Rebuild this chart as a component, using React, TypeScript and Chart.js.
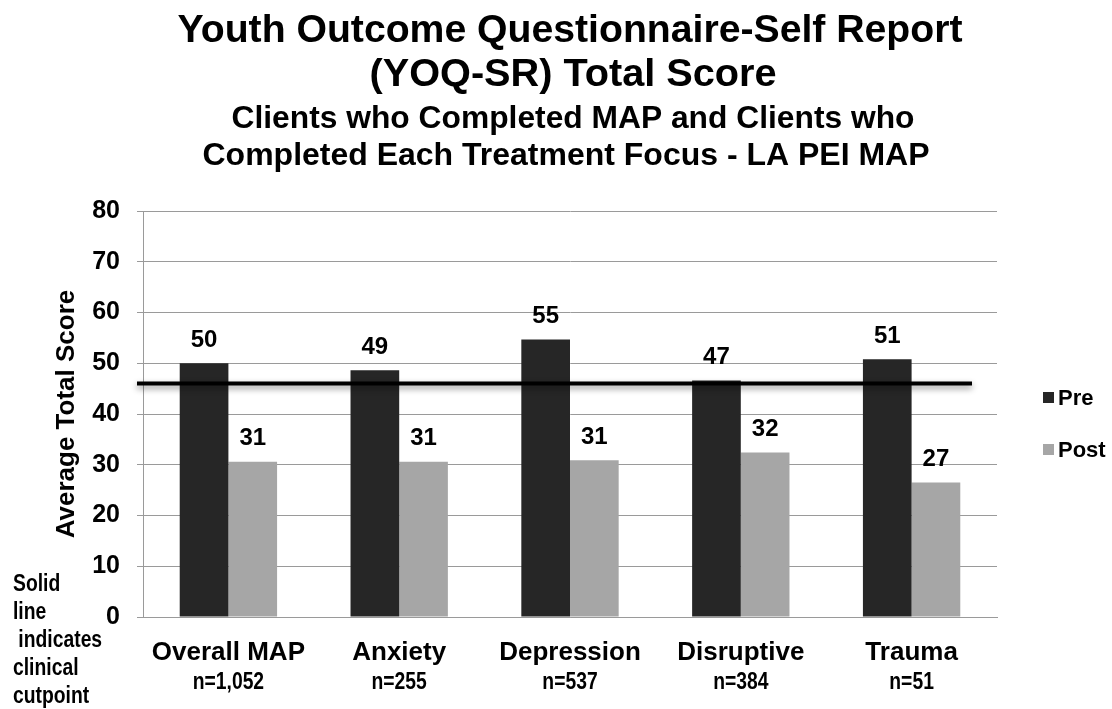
import React, { useEffect, useRef } from "react";
import { Chart, registerables } from "chart.js";

Chart.register(...registerables);

const TITLE_LINES = ["Youth Outcome Questionnaire-Self Report", "(YOQ-SR) Total Score"];
const SUBTITLE_LINES = [
  "Clients who Completed MAP and Clients who",
  "Completed Each Treatment Focus - LA PEI MAP",
];
const CATEGORIES = ["Overall MAP", "Anxiety", "Depression", "Disruptive", "Trauma"];
const SAMPLE_SIZES = ["n=1,052", "n=255", "n=537", "n=384", "n=51"];
const SERIES_NAMES = ["Pre", "Post"];
const PRE = [50.0, 48.6, 54.7, 46.6, 50.8];
const POST = [30.6, 30.6, 30.9, 32.4, 26.5];
const CUTPOINT = 46;
const Y_MIN = 0;
const Y_MAX = 80;
const Y_STEP = 10;
const Y_TITLE = "Average Total Score";
const FOOTNOTE = ["Solid", "line", " indicates", "clinical", "cutpoint"];

const COLORS = ["#262626", "#a6a6a6"];
const FONT = '"Liberation Sans", Arial, sans-serif';

function drawText(
  ctx: CanvasRenderingContext2D,
  text: string,
  x: number,
  y: number,
  font: string,
  opts: { width?: number; align?: CanvasTextAlign; scaleX?: number } = {}
) {
  ctx.save();
  ctx.font = font;
  ctx.fillStyle = "#000";
  ctx.textBaseline = "middle";
  ctx.textAlign = opts.align || "center";
  const w = ctx.measureText(text).width;
  const sx = opts.width ? opts.width / w : opts.scaleX || 1;
  ctx.translate(x, y);
  ctx.scale(sx, 1);
  ctx.fillText(text, 0, 0);
  ctx.restore();
}

const overlayPlugin = {
  id: "overlay",
  afterDatasetsDraw(chart: any) {
    const { ctx, chartArea, scales } = chart;
    const yc = scales.y.getPixelForValue(CUTPOINT);
    ctx.save();
    ctx.shadowColor = "rgba(0,0,0,0.45)";
    ctx.shadowBlur = 6;
    ctx.shadowOffsetY = 3;
    ctx.strokeStyle = "#000";
    ctx.lineWidth = 4;
    ctx.beginPath();
    ctx.moveTo(chartArea.left - 6, yc);
    ctx.lineTo(chartArea.right - 25, yc);
    ctx.stroke();
    ctx.restore();

    chart.data.datasets.forEach((ds: any, di: number) => {
      const meta = chart.getDatasetMeta(di);
      meta.data.forEach((bar: any, i: number) => {
        const v = ds.data[i] as number;
        drawText(ctx, String(Math.round(v)), bar.x, bar.y - 23, `bold 24px ${FONT}`);
      });
    });
  },
  afterDraw(chart: any) {
    const { ctx, chartArea, scales } = chart;
    const cx = (chartArea.left + chartArea.right) / 2;
    // titles
    drawText(ctx, TITLE_LINES[0], cx, 31, `bold 39px ${FONT}`, { width: 785 });
    drawText(ctx, TITLE_LINES[1], cx + 3, 75, `bold 39px ${FONT}`, { width: 407 });
    drawText(ctx, SUBTITLE_LINES[0], cx + 3, 119, `bold 31px ${FONT}`, { width: 683 });
    drawText(ctx, SUBTITLE_LINES[1], cx - 4, 156, `bold 31px ${FONT}`, { width: 727 });

    // category labels
    CATEGORIES.forEach((c, i) => {
      const x = scales.x.getPixelForValue(i);
      drawText(ctx, c, x, chartArea.bottom + 36, `bold 26px ${FONT}`);
      drawText(ctx, SAMPLE_SIZES[i], x, chartArea.bottom + 66, `bold 23px ${FONT}`, { scaleX: 0.84 });
    });

    // legend
    chart.data.datasets.forEach((ds: any, di: number) => {
      const ly = 398 + di * 52;
      ctx.save();
      ctx.fillStyle = ds.backgroundColor;
      ctx.fillRect(1043, ly - 6, 11, 11);
      ctx.restore();
      drawText(ctx, ds.label, 1058, ly + 1, `bold 22px ${FONT}`, { align: "left" });
    });

    // footnote
    FOOTNOTE.forEach((t, i) => {
      drawText(ctx, t, 13, 585 + i * 28, `bold 23px ${FONT}`, { align: "left", scaleX: 0.84 });
    });
  },
};

export default function App() {
  const ref = useRef<HTMLCanvasElement | null>(null);
  useEffect(() => {
    if (!ref.current) return;
    const chart = new Chart(ref.current, {
      type: "bar",
      data: {
        labels: CATEGORIES,
        datasets: [
          { label: SERIES_NAMES[0], data: PRE, backgroundColor: COLORS[0], borderWidth: 0 },
          { label: SERIES_NAMES[1], data: POST, backgroundColor: COLORS[1], borderWidth: 0 },
        ],
      },
      options: {
        responsive: false,
        animation: false,
        layout: { padding: { top: 211, right: 115, left: 0, bottom: 0 } },
        datasets: { bar: { categoryPercentage: 0.57, barPercentage: 1 } },
        plugins: {
          legend: { display: false },
          title: { display: false },
          tooltip: { enabled: false },
        },
        scales: {
          x: {
            grid: { display: false },
            border: { display: true, color: "#9a9a9a", width: 1 },
            ticks: { display: false },
            afterFit: (s: any) => {
              s.height = 92;
            },
          },
          y: {
            min: Y_MIN,
            max: Y_MAX,
            ticks: {
              stepSize: Y_STEP,
              color: "#000",
              font: { family: FONT, size: 25, weight: "bold" },
              padding: 17,
            },
            grid: { color: "#9a9a9a", lineWidth: 1, tickLength: 6 },
            border: { display: true, color: "#9a9a9a", width: 1 },
            title: {
              display: true,
              text: Y_TITLE,
              color: "#000",
              font: { family: FONT, size: 26, weight: "bold" },
              padding: { top: 51, bottom: 0 },
            },
            afterFit: (s: any) => {
              s.width = 143;
            },
          },
        },
      },
      plugins: [overlayPlugin],
    });
    return () => chart.destroy();
  }, []);
  return (
    <div style={{ position: "absolute", left: 0, top: 0, width: 1112, height: 709, background: "#fff" }}>
      <canvas ref={ref} width={1112} height={709} style={{ display: "block" }} />
    </div>
  );
}
